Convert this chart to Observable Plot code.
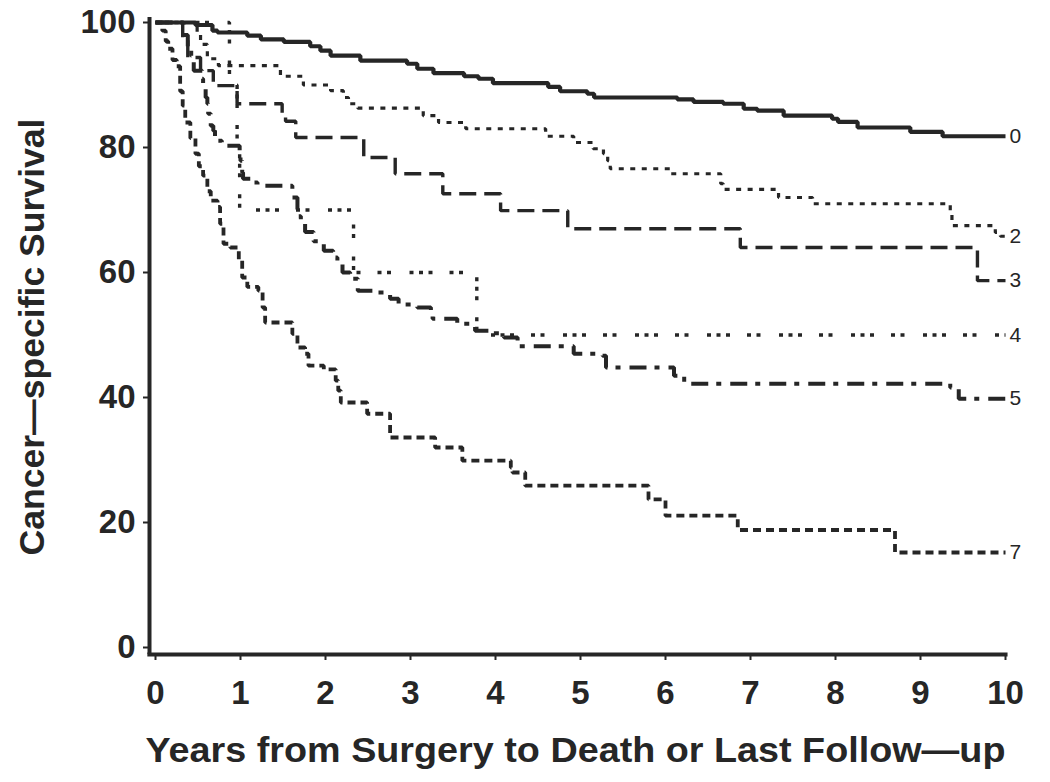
<!DOCTYPE html>
<html>
<head>
<meta charset="utf-8">
<script src="https://cdn.jsdelivr.net/npm/d3@7"></script>
<script src="https://cdn.jsdelivr.net/npm/@observablehq/plot@0.6"></script>
<style>
  body { margin: 0; background: #ffffff; }
  #chart svg { display: block; }
</style>
</head>
<body>
<div id="chart"></div>
<script>
// ---- Data ----
const groups = ["0", "2", "3", "4", "5", "7"];

const years0 = [0, 0.47, 0.67, 0.73, 1.08, 1.24, 1.51, 1.82, 1.94, 2.06, 2.41, 2.96, 3.08, 3.27, 3.63, 3.80, 3.97, 4.62, 4.76, 5.08, 5.16, 6.14, 6.33, 6.68, 6.92, 7.08, 7.39, 7.96, 8.03, 8.26, 8.88, 9.26, 10];
const surv0  = [100, 99.6, 98.7, 98.4, 97.9, 97.3, 96.9, 96.2, 95.5, 94.7, 93.9, 93.4, 92.6, 91.9, 91.4, 91.0, 90.3, 89.7, 89.0, 88.6, 88.0, 87.7, 87.3, 87.0, 86.2, 85.9, 85.1, 84.6, 84.1, 83.2, 82.5, 81.8, 81.8];

const years2 = [0, 0.49, 0.53, 0.61, 0.74, 1.47, 1.74, 2.06, 2.21, 2.27, 2.38, 3.15, 3.33, 3.65, 4.59, 4.92, 5.15, 5.27, 5.32, 5.35, 6.06, 6.65, 6.68, 7.33, 7.73, 9.35, 9.37, 9.88, 9.94, 10];
const surv2  = [100, 98.3, 96.5, 94.2, 93.1, 91.4, 90.0, 89.1, 88.0, 87.0, 86.3, 85.1, 84.0, 83.0, 81.8, 80.8, 79.8, 79.0, 77.9, 76.6, 75.8, 74.2, 73.3, 72.0, 71.0, 69.4, 67.5, 66.4, 65.8, 65.8];

const years3 = [0, 0.32, 0.38, 0.53, 0.68, 0.96, 1.49, 1.53, 1.65, 2.45, 2.82, 3.38, 4.06, 4.85, 6.88, 9.67, 10];
const surv3  = [100, 97.2, 94.4, 92.3, 89.9, 87.0, 85.1, 84.2, 81.6, 78.4, 75.8, 72.6, 69.9, 67.0, 64.0, 58.7, 58.7];

const years4 = [0, 0.87, 0.96, 0.99, 2.33, 3.78, 10];
const surv4  = [100, 90, 80, 70, 60, 50, 50];

const years5 = [0, 0.33, 0.38, 0.42, 0.45, 0.55, 0.56, 0.59, 0.61, 0.62, 0.65, 0.68, 0.70, 0.78, 0.99, 1.00, 1.02, 1.03, 1.12, 1.20, 1.61, 1.67, 1.71, 1.76, 1.86, 1.98, 2.09, 2.14, 2.20, 2.29, 2.38, 2.60, 2.76, 2.86, 3.08, 3.24, 3.26, 3.55, 3.76, 3.94, 4.10, 4.26, 4.28, 4.92, 5.26, 5.30, 6.10, 6.22, 9.35, 9.45, 10];
const surv5  = [100, 98, 96, 94.7, 92.3, 91, 89.9, 88, 87, 85.4, 83.5, 82.7, 81.1, 80.3, 79, 77.9, 76, 75, 74.4, 73.9, 72, 69, 67.8, 66.5, 65, 63.5, 62.4, 61.4, 60, 59, 57.1, 56.8, 55.8, 54.9, 54.4, 53.1, 52.6, 51.8, 50.7, 50.3, 49.6, 49.1, 48.2, 47, 46.7, 44.8, 43.5, 42.2, 41.6, 39.8, 39.8];

const years7 = [0, 0.08, 0.12, 0.15, 0.20, 0.25, 0.29, 0.32, 0.35, 0.41, 0.47, 0.51, 0.56, 0.61, 0.65, 0.73, 0.76, 0.80, 0.88, 0.98, 1.02, 1.08, 1.21, 1.26, 1.29, 1.61, 1.67, 1.76, 1.80, 1.98, 2.12, 2.15, 2.18, 2.49, 2.76, 3.29, 3.61, 4.18, 4.20, 4.35, 5.80, 6.00, 6.85, 8.70, 10];
const surv7  = [100, 98.7, 97, 95.8, 94, 93, 89, 86.7, 84, 81.5, 79, 77, 75.5, 73, 71.5, 70.5, 67.8, 64.6, 64, 61.9, 59.2, 57.7, 57.1, 54.4, 52, 50.2, 48, 47, 45.1, 44.5, 42.7, 41.1, 39.2, 37.4, 33.6, 32, 29.9, 28.8, 28, 25.9, 23.7, 21.1, 18.8, 15.2, 15.2];

const xTicks = [0, 1, 2, 3, 4, 5, 6, 7, 8, 9, 10];
const yTicks = [0, 20, 40, 60, 80, 100];
const xTitle = "Years from Surgery to Death or Last Follow\u2014up";
const yTitle = "Cancer\u2014specific Survival";

// ---- Build table ----
const seriesData = {
  "0": [years0, surv0], "2": [years2, surv2], "3": [years3, surv3],
  "4": [years4, surv4], "5": [years5, surv5], "7": [years7, surv7]
};
const rows = [];
for (const g of groups) {
  const [ts, ss] = seriesData[g];
  ts.forEach((t, i) => rows.push({group: g, t, s: ss[i]}));
}
const lastPoints = groups.map(g => {
  const r = rows.filter(d => d.group === g);
  return r[r.length - 1];
});

// ---- Styles ----
const ink = "#262626";
const lineStyle = {
  "0": {w: 4.2, dash: null},
  "2": {w: 3.2, dash: "5,6.5"},
  "3": {w: 3.4, dash: "17,8"},
  "4": {w: 3.4, dash: "4,5.5,4,5.5,4,17,4,5.5,4,18.5"},
  "5": {w: 4.0, dash: "17,8,5,9"},
  "7": {w: 3.8, dash: "8,5"}
};

const lineMarks = groups.map(g => Plot.line(rows.filter(d => d.group === g), {
  x: "t", y: "s", curve: "step-after", stroke: ink,
  strokeWidth: lineStyle[g].w,
  strokeDasharray: lineStyle[g].dash || undefined,
  strokeLinejoin: "miter", strokeLinecap: "butt"
}));

const plot = Plot.plot({
  width: 1050,
  height: 782,
  marginLeft: 155,
  marginRight: 45,
  marginTop: 22,
  marginBottom: 135,
  style: {fontFamily: "'Liberation Sans', Arial, Helvetica, sans-serif", fontSize: "32px", fontWeight: "bold", color: ink, background: "#ffffff"},
  x: {domain: [0, 10], axis: null},
  y: {domain: [0, 100], axis: null},
  marks: [
    // frame (offset like the original)
    Plot.ruleX([0], {dx: -6, y1: 100.8, y2: -1.12, stroke: ink, strokeWidth: 4}),
    Plot.ruleY([0], {dy: 7, x1: -0.09, x2: 10.03, stroke: ink, strokeWidth: 4}),
    Plot.axisX(xTicks, {anchor: "bottom", dy: 7, tickSize: 6, tickPadding: 20, strokeWidth: 2, stroke: ink, fill: ink, label: null, fontSize: 33, tickFormat: d => String(d)}),
    Plot.axisY(yTicks, {anchor: "left", dx: -6, tickSize: 6, tickPadding: 8, strokeWidth: 2, stroke: ink, fill: ink, label: null, fontSize: 33, tickFormat: d => String(d)}),
    ...lineMarks,
    Plot.text(lastPoints, {x: "t", y: "s", text: "group", textAnchor: "start", dx: 4, fontSize: 21, fontWeight: "normal", fill: ink}),
    Plot.text([xTitle], {frameAnchor: "bottom", textAnchor: "middle", dx: -5, dy: 103, lineAnchor: "middle", fontSize: 35, fontWeight: "bold", fill: ink}),
    Plot.text([yTitle], {frameAnchor: "left", textAnchor: "middle", rotate: -90, dx: -123, dy: 2, lineAnchor: "middle", fontSize: 35, fontWeight: "bold", fill: ink})
  ]
});

// stretch the titles to the width used in the original
plot.querySelectorAll("text").forEach(t => {
  if (t.textContent === xTitle) {
    t.setAttribute("textLength", 860);
    t.setAttribute("lengthAdjust", "spacingAndGlyphs");
  } else if (t.textContent === yTitle) {
    t.setAttribute("textLength", 437);
    t.setAttribute("lengthAdjust", "spacingAndGlyphs");
  }
});

document.getElementById("chart").appendChild(plot);
</script>
</body>
</html>
